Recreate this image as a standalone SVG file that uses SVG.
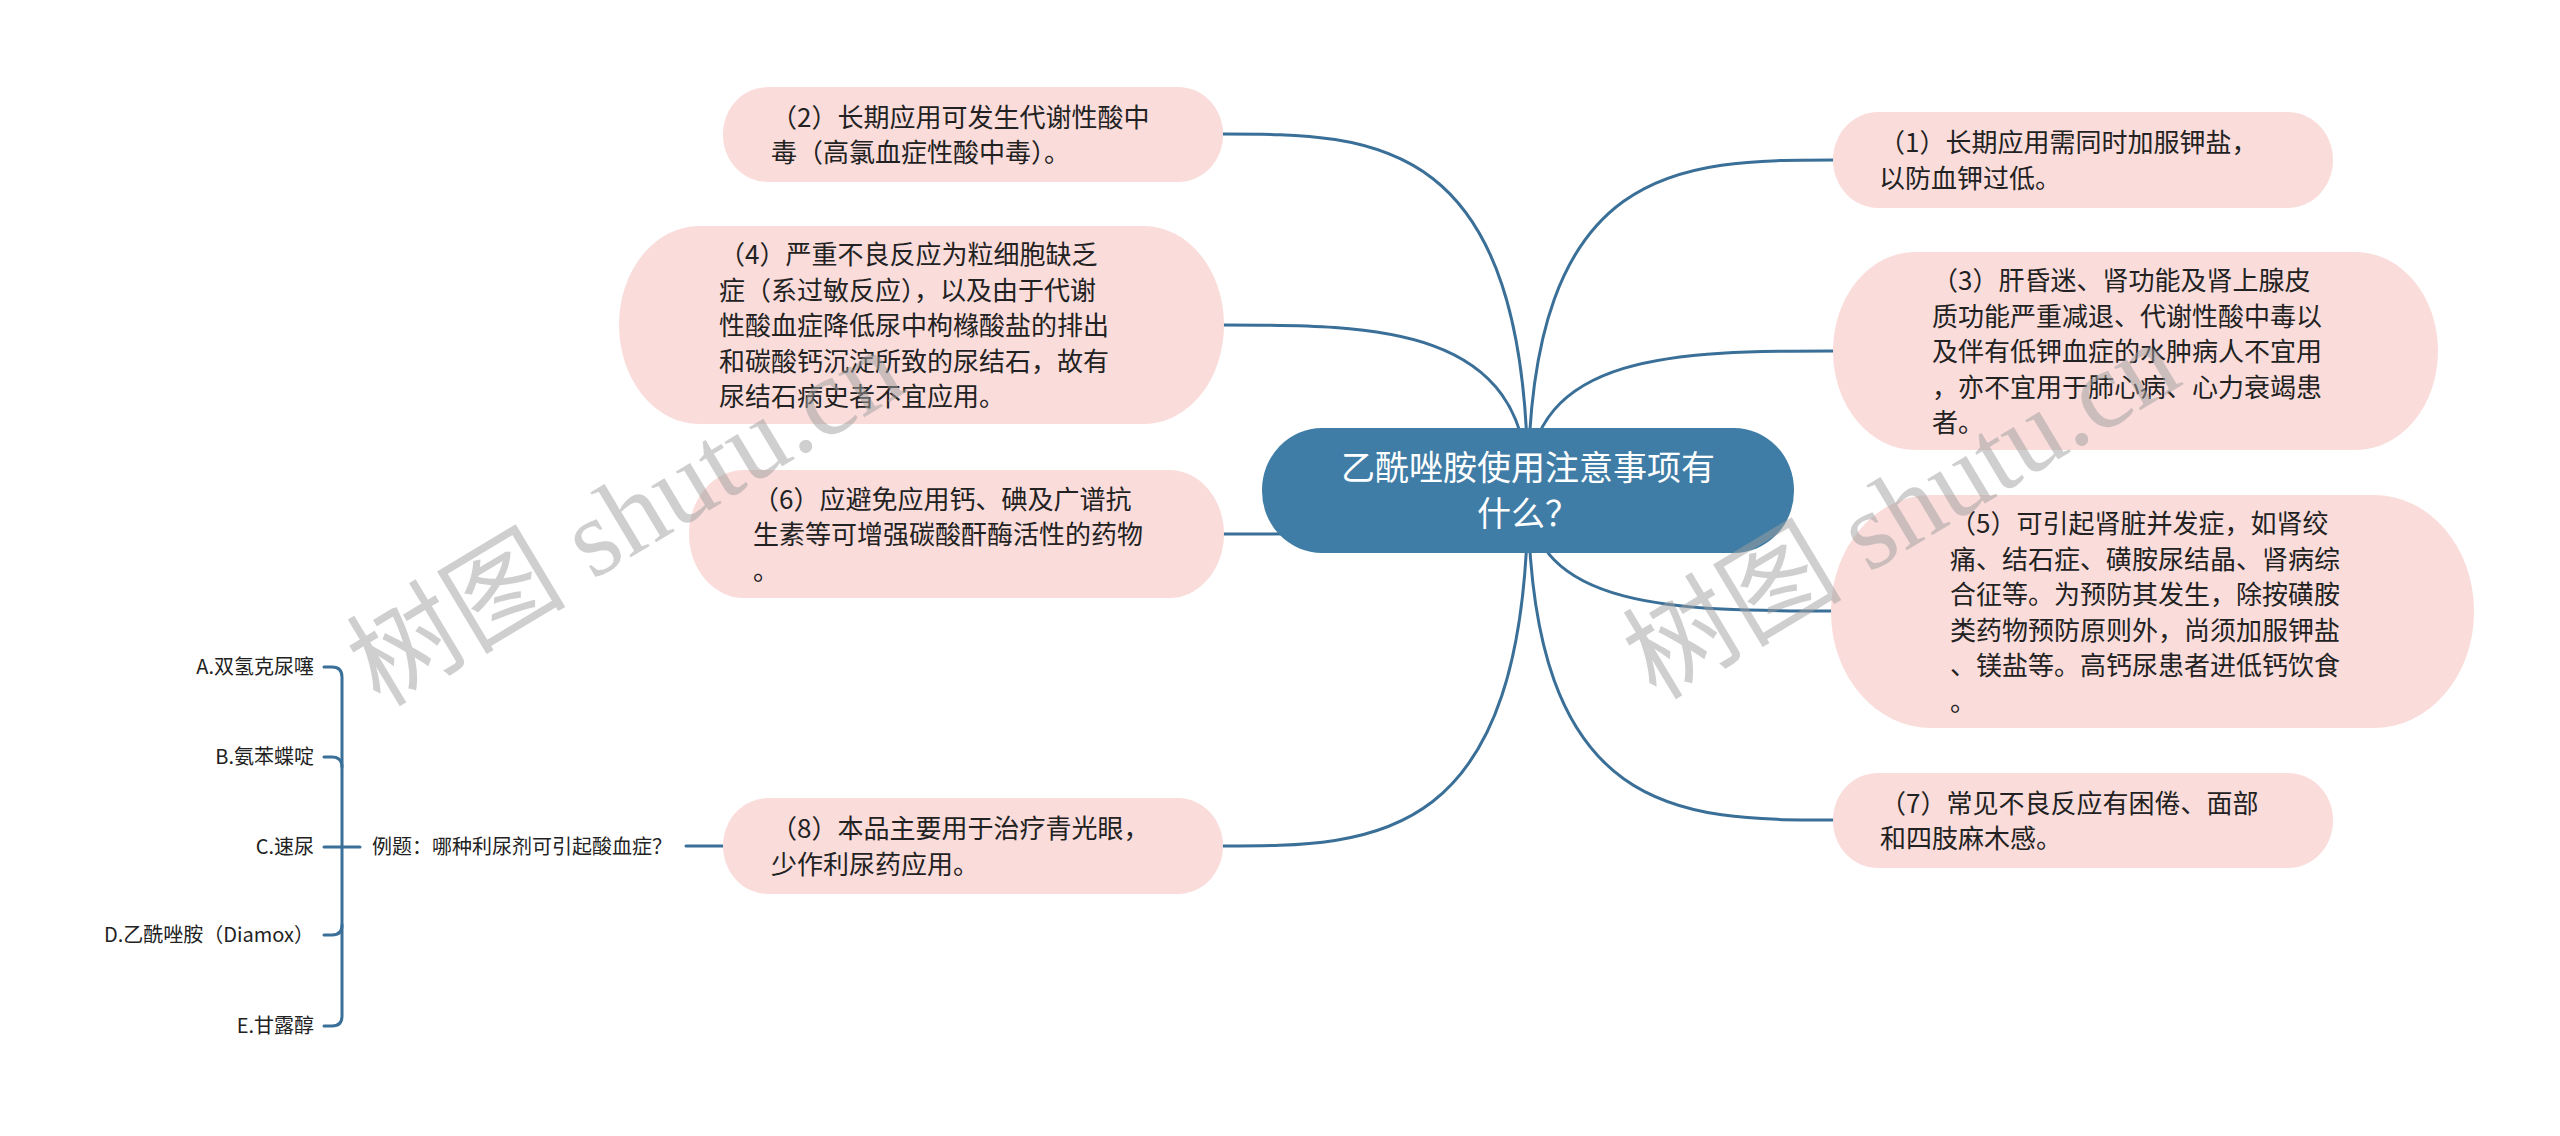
<svg xmlns="http://www.w3.org/2000/svg" width="2560" height="1136" viewBox="0 0 2560 1136">
<style>
.bg{fill:#ffffff}
.sub{fill:#fadcdb}
.t{font-family:"Noto Sans CJK SC","Liberation Sans",sans-serif;font-size:26px;fill:#222222}
.root{fill:#3f7da6}
.rt{font-family:"Noto Sans CJK SC","Liberation Sans",sans-serif;font-size:34px;fill:#ffffff;text-anchor:middle}
.sm{font-family:"Noto Sans CJK SC","Liberation Sans",sans-serif;font-size:20px;fill:#222222}
.opt{text-anchor:end}
.ln{fill:none;stroke:#3a6f98;stroke-width:3;stroke-linecap:round}
.wm{font-family:"Liberation Serif","Noto Sans CJK SC",serif;font-size:110px;fill:#a0a0a0;opacity:0.5}
</style>
<rect class="bg" x="0" y="0" width="2560" height="1136"/>
<g id="connectors">
<path class="ln" d="M1528,490 C1528,134 1375.5,134 1223,134"/>
<path class="ln" d="M1528,490 C1528,325 1375.5,325 1223,325"/>
<path class="ln" d="M1528,490 C1528,534 1375.5,534 1223,534"/>
<path class="ln" d="M1528,490 C1528,846 1375.5,846 1223,846"/>
<path class="ln" d="M1528,490 C1528,160 1681,160 1834,160"/>
<path class="ln" d="M1528,490 C1528,351 1681,351 1834,351"/>
<path class="ln" d="M1528,490 C1528,611 1681,611 1834,611"/>
<path class="ln" d="M1528,490 C1528,820 1681,820 1834,820"/>
<path class="ln" d="M686,846 H723"/>
<path class="ln" d="M324,667 H332 Q342,667 342,677 V1016 Q342,1026 332,1026 H324"/>
<path class="ln" d="M324,757 H332 Q342,757 342,767"/>
<path class="ln" d="M324,935 H332 Q342,935 342,925"/>
<path class="ln" d="M324,847 H360"/>
</g>
<g id="root">
<rect class="root" x="1262" y="428" width="532" height="125" rx="60" ry="62"/>
<text class="rt" x="1528" y="480">乙酰唑胺使用注意事项有</text>
<text class="rt" x="1528" y="526">什么？</text>
</g>
<g id="n2">
<rect class="sub" x="723" y="87" width="500" height="95" rx="45" ry="47"/>
<text class="t" x="771" y="127">（2）长期应用可发生代谢性酸中</text>
<text class="t" x="771" y="162">毒（高氯血症性酸中毒）。</text>
</g>
<g id="n4">
<rect class="sub" x="619" y="226" width="605" height="198" rx="80" ry="99"/>
<text class="t" x="719" y="264">（4）严重不良反应为粒细胞缺乏</text>
<text class="t" x="719" y="299.5">症（系过敏反应），以及由于代谢</text>
<text class="t" x="719" y="335">性酸血症降低尿中枸橼酸盐的排出</text>
<text class="t" x="719" y="370.5">和碳酸钙沉淀所致的尿结石，故有</text>
<text class="t" x="719" y="406">尿结石病史者不宜应用。</text>
</g>
<g id="n6">
<rect class="sub" x="689" y="470" width="535" height="128" rx="55" ry="64"/>
<text class="t" x="753" y="508.5">（6）应避免应用钙、碘及广谱抗</text>
<text class="t" x="753" y="544">生素等可增强碳酸酐酶活性的药物</text>
<text class="t" x="753" y="579.5">。</text>
</g>
<g id="n8">
<rect class="sub" x="723" y="798" width="500" height="96" rx="45" ry="48"/>
<text class="t" x="771" y="838">（8）本品主要用于治疗青光眼，</text>
<text class="t" x="771" y="874">少作利尿药应用。</text>
</g>
<g id="n1">
<rect class="sub" x="1833" y="112" width="500" height="96" rx="45" ry="48"/>
<text class="t" x="1879" y="152">（1）长期应用需同时加服钾盐，</text>
<text class="t" x="1879" y="188">以防血钾过低。</text>
</g>
<g id="n3">
<rect class="sub" x="1833" y="252" width="605" height="198" rx="82" ry="99"/>
<text class="t" x="1932" y="290">（3）肝昏迷、肾功能及肾上腺皮</text>
<text class="t" x="1932" y="325.5">质功能严重减退、代谢性酸中毒以</text>
<text class="t" x="1932" y="361">及伴有低钾血症的水肿病人不宜用</text>
<text class="t" x="1932" y="396.5">，亦不宜用于肺心病、心力衰竭患</text>
<text class="t" x="1932" y="432">者。</text>
</g>
<g id="n5">
<rect class="sub" x="1831" y="495" width="643" height="233" rx="100" ry="116"/>
<text class="t" x="1950" y="533">（5）可引起肾脏并发症，如肾绞</text>
<text class="t" x="1950" y="568.5">痛、结石症、磺胺尿结晶、肾病综</text>
<text class="t" x="1950" y="604">合征等。为预防其发生，除按磺胺</text>
<text class="t" x="1950" y="639.5">类药物预防原则外，尚须加服钾盐</text>
<text class="t" x="1950" y="675">、镁盐等。高钙尿患者进低钙饮食</text>
<text class="t" x="1950" y="710.5">。</text>
</g>
<g id="n7">
<rect class="sub" x="1833" y="773" width="500" height="95" rx="45" ry="47"/>
<text class="t" x="1880" y="813">（7）常见不良反应有困倦、面部</text>
<text class="t" x="1880" y="848">和四肢麻木感。</text>
</g>
<g id="question">
<text class="sm" x="372" y="854">例题：哪种利尿剂可引起酸血症？</text>
</g>
<g id="optA"><text class="sm opt" x="314" y="674">A.双氢克尿噻</text></g>
<g id="optB"><text class="sm opt" x="314" y="764">B.氨苯蝶啶</text></g>
<g id="optC"><text class="sm opt" x="314" y="854">C.速尿</text></g>
<g id="optD"><text class="sm opt" x="314" y="942">D.乙酰唑胺（Diamox）</text></g>
<g id="optE"><text class="sm opt" x="314" y="1033">E.甘露醇</text></g>
<g id="watermark">
<text class="wm" transform="translate(380,708) rotate(-31)">树图 shutu.cn</text>
<text class="wm" transform="translate(1656,701) rotate(-31)">树图 shutu.cn</text>
</g>
</svg>
